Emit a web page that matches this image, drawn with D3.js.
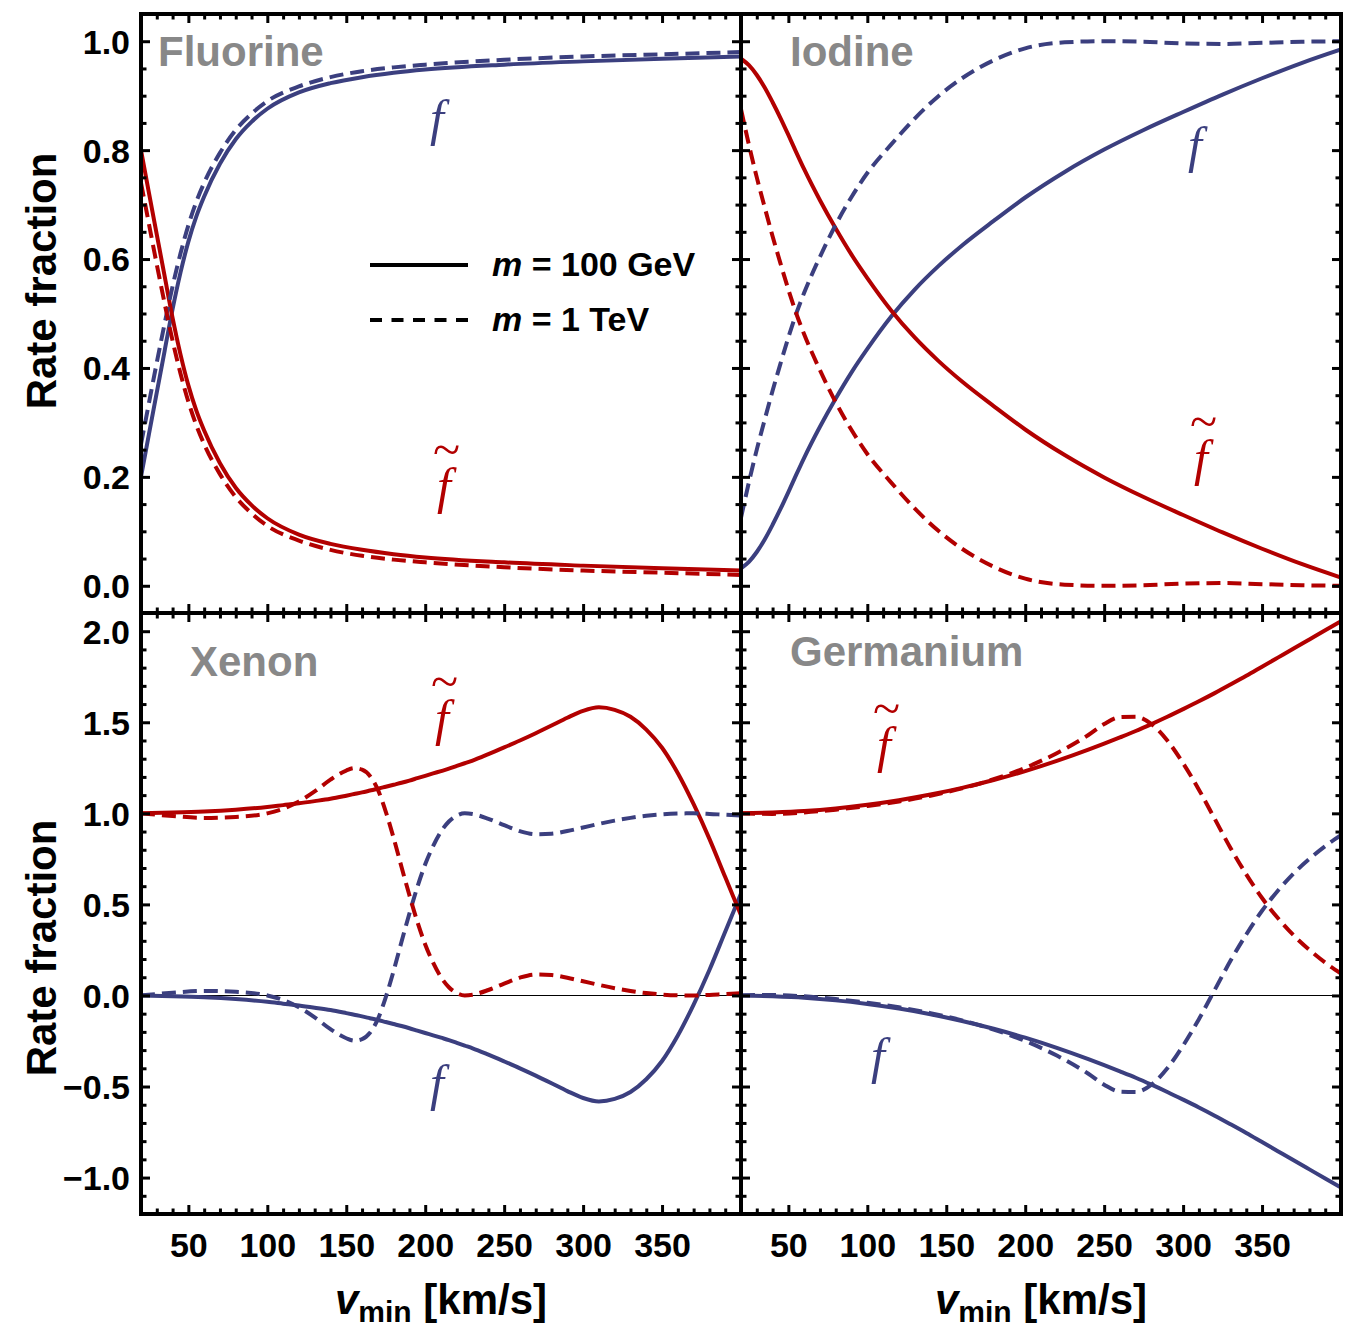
<!DOCTYPE html>
<html><head><meta charset="utf-8">
<script src="https://cdn.jsdelivr.net/npm/d3@7"></script>
<style>
body{margin:0;background:#fff}
</style>
</head><body>
<svg id="c" width="1353" height="1328" style="font-family:'Liberation Sans',Arial,Helvetica,sans-serif"></svg>
<script>
// ---------------- DATA ----------------
const panelNames = ["Fluorine", "Iodine", "Xenon", "Germanium"];
const xTickValues = [50, 100, 150, 200, 250, 300, 350];
const xTickLabels = ["50", "100", "150", "200", "250", "300", "350"];
const yTickValuesTop = [0, 0.2, 0.4, 0.6, 0.8, 1.0];
const yTickLabelsTop = ["0.0", "0.2", "0.4", "0.6", "0.8", "1.0"];
const yTickValuesBottom = [-1, -0.5, 0, 0.5, 1, 1.5, 2];
const yTickLabelsBottom = ["\u22121.0", "\u22120.5", "0.0", "0.5", "1.0", "1.5", "2.0"];
const legendLabels = ["100 GeV", "1 TeV"];

// Fluorine
const vFluorine = [20,25,30,35,40,45,50,55,60,70,80,90,100,120,140,160,180,200,250,300,350,400];
const fluorineFtilde100 = [0.80,0.722,0.645,0.568,0.492,0.425,0.368,0.322,0.285,0.225,0.18,0.148,0.124,0.094,0.077,0.066,0.058,0.052,0.043,0.037,0.032,0.028];
const fluorineF100      = [0.20,0.278,0.355,0.432,0.508,0.575,0.632,0.678,0.715,0.775,0.82,0.852,0.876,0.906,0.923,0.934,0.942,0.948,0.957,0.963,0.968,0.972];
const fluorineFtilde1T  = [0.74,0.665,0.59,0.518,0.45,0.39,0.338,0.295,0.26,0.205,0.163,0.133,0.11,0.083,0.066,0.055,0.048,0.043,0.034,0.028,0.024,0.02];
const fluorineF1T       = [0.26,0.335,0.41,0.482,0.55,0.61,0.662,0.705,0.74,0.795,0.837,0.867,0.89,0.917,0.934,0.945,0.952,0.957,0.966,0.972,0.976,0.98];

// Iodine
const vIodine = [20,25,30,35,40,45,50,55,60,70,80,90,100,115,130,145,160,180,200,225,250,275,300,325,350,375,400];
const iodineFtilde100 = [0.968,0.956,0.938,0.915,0.888,0.859,0.828,0.796,0.765,0.708,0.656,0.608,0.565,0.506,0.456,0.413,0.375,0.33,0.287,0.24,0.199,0.163,0.13,0.098,0.068,0.04,0.015];
const iodineF100      = [0.032,0.044,0.062,0.085,0.112,0.141,0.172,0.204,0.235,0.292,0.344,0.392,0.435,0.494,0.544,0.587,0.625,0.67,0.713,0.76,0.801,0.837,0.87,0.902,0.932,0.96,0.985];
const iodineFtilde1T  = [0.875,0.81,0.75,0.695,0.642,0.592,0.544,0.5,0.462,0.396,0.337,0.286,0.242,0.19,0.142,0.101,0.068,0.035,0.013,0.002,0.0,0.001,0.004,0.005,0.003,0.001,0.0];
const iodineF1T       = [0.125,0.19,0.25,0.305,0.358,0.408,0.456,0.5,0.538,0.604,0.663,0.714,0.758,0.81,0.858,0.899,0.932,0.965,0.987,0.998,1.0,0.999,0.996,0.995,0.997,0.999,1.0];

// Xenon
const vXenon = [20,40,60,80,100,110,120,130,140,150,155,160,165,170,175,180,185,190,195,200,205,210,215,220,225,230,240,250,260,270,280,290,300,310,320,330,340,350,360,370,380,390,400];
const xenonFtilde100 = [1.0,1.004,1.01,1.02,1.035,1.045,1.055,1.067,1.08,1.097,1.106,1.115,1.125,1.135,1.146,1.157,1.168,1.18,1.193,1.206,1.219,1.232,1.245,1.26,1.275,1.29,1.325,1.362,1.4,1.44,1.482,1.525,1.563,1.582,1.568,1.53,1.46,1.36,1.22,1.05,0.86,0.65,0.44];
const xenonF100      = [0,-0.004,-0.01,-0.02,-0.035,-0.045,-0.055,-0.067,-0.08,-0.097,-0.106,-0.115,-0.125,-0.135,-0.146,-0.157,-0.168,-0.18,-0.193,-0.206,-0.219,-0.232,-0.245,-0.26,-0.275,-0.29,-0.325,-0.362,-0.4,-0.44,-0.482,-0.525,-0.563,-0.582,-0.568,-0.53,-0.46,-0.36,-0.22,-0.05,0.14,0.35,0.56];
const xenonFtilde1T  = [1.0,0.985,0.975,0.98,1.0,1.025,1.065,1.12,1.185,1.235,1.248,1.24,1.205,1.13,1.01,0.865,0.705,0.55,0.405,0.28,0.18,0.1,0.045,0.013,0.0,0.004,0.03,0.065,0.098,0.115,0.112,0.097,0.078,0.058,0.04,0.025,0.013,0.005,0.001,0.0,0.003,0.008,0.012];
const xenonF1T       = [0,0.015,0.025,0.02,0,-0.025,-0.065,-0.12,-0.185,-0.235,-0.248,-0.24,-0.205,-0.13,-0.01,0.135,0.295,0.45,0.595,0.72,0.82,0.9,0.955,0.987,1.0,0.996,0.97,0.935,0.902,0.885,0.888,0.903,0.922,0.942,0.96,0.975,0.987,0.995,0.999,1.0,0.997,0.992,0.988];

// Germanium
const vGermanium = [20,40,60,80,100,120,140,160,180,200,220,240,250,260,270,280,290,300,310,320,330,340,350,360,370,380,390,400];
const germaniumFtilde100 = [1.0,1.005,1.013,1.027,1.047,1.072,1.103,1.14,1.183,1.232,1.288,1.35,1.383,1.417,1.452,1.49,1.53,1.572,1.615,1.66,1.707,1.755,1.805,1.855,1.905,1.955,2.005,2.055];
const germaniumF100      = [0,-0.005,-0.013,-0.027,-0.047,-0.072,-0.103,-0.14,-0.183,-0.232,-0.288,-0.35,-0.383,-0.417,-0.452,-0.49,-0.53,-0.572,-0.615,-0.66,-0.707,-0.755,-0.805,-0.855,-0.905,-0.955,-1.005,-1.055];
const germaniumFtilde1T  = [1.0,0.997,1.005,1.02,1.04,1.065,1.097,1.137,1.187,1.25,1.33,1.43,1.49,1.528,1.53,1.49,1.4,1.275,1.13,0.97,0.81,0.665,0.535,0.425,0.33,0.25,0.18,0.12];
const germaniumF1T       = [0,0.003,-0.005,-0.02,-0.04,-0.065,-0.097,-0.137,-0.187,-0.25,-0.33,-0.43,-0.49,-0.528,-0.53,-0.49,-0.4,-0.275,-0.13,0.03,0.19,0.335,0.465,0.575,0.67,0.75,0.82,0.88];

// ---------------- LAYOUT ----------------
const BLUE = "#3b3f7f", RED = "#b20000", GRAY = "#888888";
const SANS = "'Liberation Sans',Arial,Helvetica,sans-serif";
const SERIF = "'Liberation Serif','DejaVu Serif',serif";
const colX = [[141, 741], [741, 1341]];
const rowY = [[14, 613], [613, 1214]];
const yDomains = [[-0.05, 1.05], [-1.2, 2.1]];

const panels = [
  {name: panelNames[0], col: 0, row: 0, v: vFluorine, ft100: fluorineFtilde100, f100: fluorineF100, ft1T: fluorineFtilde1T, f1T: fluorineF1T,
   title: [158, 66], fLab: [437, 135], ftLab: [440, 503]},
  {name: panelNames[1], col: 1, row: 0, v: vIodine, ft100: iodineFtilde100, f100: iodineF100, ft1T: iodineFtilde1T, f1T: iodineF1T,
   title: [790, 66], fLab: [1195, 162], ftLab: [1197, 475]},
  {name: panelNames[2], col: 0, row: 1, v: vXenon, ft100: xenonFtilde100, f100: xenonF100, ft1T: xenonFtilde1T, f1T: xenonF1T,
   title: [190, 676], fLab: [437, 1100], ftLab: [438, 735], zero: true},
  {name: panelNames[3], col: 1, row: 1, v: vGermanium, ft100: germaniumFtilde100, f100: germaniumF100, ft1T: germaniumFtilde1T, f1T: germaniumF1T,
   title: [790, 666], fLab: [878, 1073], ftLab: [880, 762], zero: true}
];

const svg = d3.select("#c");
const defs = svg.append("defs");

function range(a, b, s) { const out = []; for (let t = a; t <= b + 1e-9; t += s) out.push(+t.toFixed(4)); return out; }
const xMinor = range(20, 400, 10).filter(t => t % 50 !== 0);
const yMinorTop = range(-0.05, 1.05, 0.05).filter(t => Math.abs(t * 5 - Math.round(t * 5)) > 1e-6);
const yMinorBot = range(-1.2, 2.1, 0.1).filter(t => Math.abs(t * 2 - Math.round(t * 2)) > 1e-6);

function styleTicks(g, w) {
  g.select(".domain").remove();
  g.selectAll(".tick line").attr("stroke", "#000").attr("stroke-width", w);
  g.selectAll(".tick text").remove();
}

panels.forEach((p, i) => {
  const [x0, x1] = colX[p.col], [y0, y1] = rowY[p.row];
  const x = d3.scaleLinear().domain([20, 400]).range([x0, x1]);
  const y = d3.scaleLinear().domain(yDomains[p.row]).range([y1, y0]);
  const majorY = p.row === 0 ? yTickValuesTop : yTickValuesBottom;
  const minorY = p.row === 0 ? yMinorTop : yMinorBot;

  const g = svg.append("g");
  defs.append("clipPath").attr("id", "clip" + i).append("rect")
    .attr("x", x0).attr("y", y0).attr("width", x1 - x0).attr("height", y1 - y0);

  if (p.zero) {
    g.append("line").attr("x1", x0).attr("x2", x1).attr("y1", y(0)).attr("y2", y(0))
      .attr("stroke", "#000").attr("stroke-width", 1.1);
  }

  const cg = g.append("g").attr("clip-path", `url(#clip${i})`);
  const series = [
    {vals: p.f100, color: BLUE, dash: null},
    {vals: p.ft100, color: RED, dash: null},
    {vals: p.f1T, color: BLUE, dash: "14,7"},
    {vals: p.ft1T, color: RED, dash: "14,7"}
  ];
  series.forEach(s => {
    const line = d3.line().x((d, k) => x(p.v[k])).y(d => y(d)).curve(d3.curveMonotoneX);
    cg.append("path").attr("d", line(s.vals)).attr("fill", "none")
      .attr("stroke", s.color).attr("stroke-width", 4)
      .attr("stroke-dasharray", s.dash);
  });

  const mk = (axisFn, scale, vals, size, w, tr) => {
    g.append("g").attr("transform", tr).call(axisFn(scale).tickValues(vals).tickSize(size).tickFormat(""))
      .call(gg => styleTicks(gg, w));
  };
  mk(d3.axisTop, x, xTickValues, 9, 3, `translate(0,${y1})`);
  mk(d3.axisTop, x, xMinor, 5.5, 3, `translate(0,${y1})`);
  mk(d3.axisBottom, x, xTickValues, 9, 3, `translate(0,${y0})`);
  mk(d3.axisBottom, x, xMinor, 5.5, 3, `translate(0,${y0})`);
  mk(d3.axisRight, y, majorY, 9, 3, `translate(${x0},0)`);
  mk(d3.axisRight, y, minorY, 5.5, 3, `translate(${x0},0)`);
  mk(d3.axisLeft, y, majorY, 9, 3, `translate(${x1},0)`);
  mk(d3.axisLeft, y, minorY, 5.5, 3, `translate(${x1},0)`);

  if (p.col === 0) {
    const labs = p.row === 0 ? yTickLabelsTop : yTickLabelsBottom;
    const ax = g.append("g").attr("transform", `translate(${x0},0)`)
      .call(d3.axisLeft(y).tickValues(majorY).tickSize(0).tickPadding(11).tickFormat((d, k) => labs[k]));
    ax.select(".domain").remove();
    ax.selectAll("text").attr("font-size", 34).attr("font-weight", "bold").attr("fill", "#000")
      .style("font-family", SANS).attr("dy", "0.35em");
  }
  if (p.row === 1) {
    const ax = g.append("g").attr("transform", `translate(0,${y1})`)
      .call(d3.axisBottom(x).tickValues(xTickValues).tickSize(0).tickPadding(19).tickFormat((d, k) => xTickLabels[k]));
    ax.select(".domain").remove();
    ax.selectAll("text").attr("font-size", 34).attr("font-weight", "bold").attr("fill", "#000")
      .style("font-family", SANS);
  }

  g.append("text").attr("x", p.title[0]).attr("y", p.title[1]).text(p.name)
    .style("font-family", SANS).attr("font-size", 42).attr("font-weight", "bold").attr("fill", GRAY);

  // curve labels: f and f-tilde (tilde as a raised tspan in the same text)
  g.append("text").attr("x", p.fLab[0]).attr("y", p.fLab[1]).attr("text-anchor", "middle")
    .style("font-family", SERIF).attr("font-style", "italic").attr("font-size", 50).attr("fill", BLUE).text("f");
  const ft = g.append("text").attr("x", p.ftLab[0] - 7).attr("y", p.ftLab[1])
    .style("font-family", SERIF).attr("font-size", 50).attr("fill", RED);
  ft.append("tspan").attr("font-style", "italic").text("f");
  ft.append("tspan").attr("font-size", 50).attr("dx", -18).attr("dy", -37).text("~");
});

// frames
svg.append("rect").attr("x", 141).attr("y", 14).attr("width", 1200).attr("height", 1200)
  .attr("fill", "none").attr("stroke", "#000").attr("stroke-width", 4);
svg.append("line").attr("x1", 741).attr("x2", 741).attr("y1", 14).attr("y2", 1214).attr("stroke", "#000").attr("stroke-width", 4);
svg.append("line").attr("x1", 141).attr("x2", 1341).attr("y1", 613).attr("y2", 613).attr("stroke", "#000").attr("stroke-width", 4);

// y axis titles
[[56, 281], [56, 948]].forEach(([tx, ty]) => {
  svg.append("text").attr("transform", `translate(${tx},${ty}) rotate(-90)`).attr("text-anchor", "middle")
    .style("font-family", SANS).attr("font-size", 42).attr("font-weight", "bold").text("Rate fraction");
});

// x axis titles
[441, 1041].forEach(cx => {
  const t = svg.append("text").attr("x", cx).attr("y", 1314).attr("text-anchor", "middle")
    .style("font-family", SANS).attr("font-size", 42).attr("font-weight", "bold");
  t.append("tspan").attr("font-style", "italic").text("v");
  t.append("tspan").attr("font-size", 30).attr("dy", 8).text("min");
  t.append("tspan").attr("dy", -8).text(" [km/s]");
});

// legend
const lg = svg.append("g");
[[265, null], [320, "12,9.5"]].forEach(([ly, dash], k) => {
  lg.append("line").attr("x1", 370).attr("x2", 468).attr("y1", ly).attr("y2", ly)
    .attr("stroke", "#000").attr("stroke-width", 3.8).attr("stroke-dasharray", dash);
  const t = lg.append("text").attr("x", 492).attr("y", ly + 11).style("font-family", SANS)
    .attr("font-size", 34).attr("font-weight", "bold");
  t.append("tspan").attr("font-style", "italic").text("m");
  t.append("tspan").text(" = " + legendLabels[k]);
});
</script>
</body></html>
